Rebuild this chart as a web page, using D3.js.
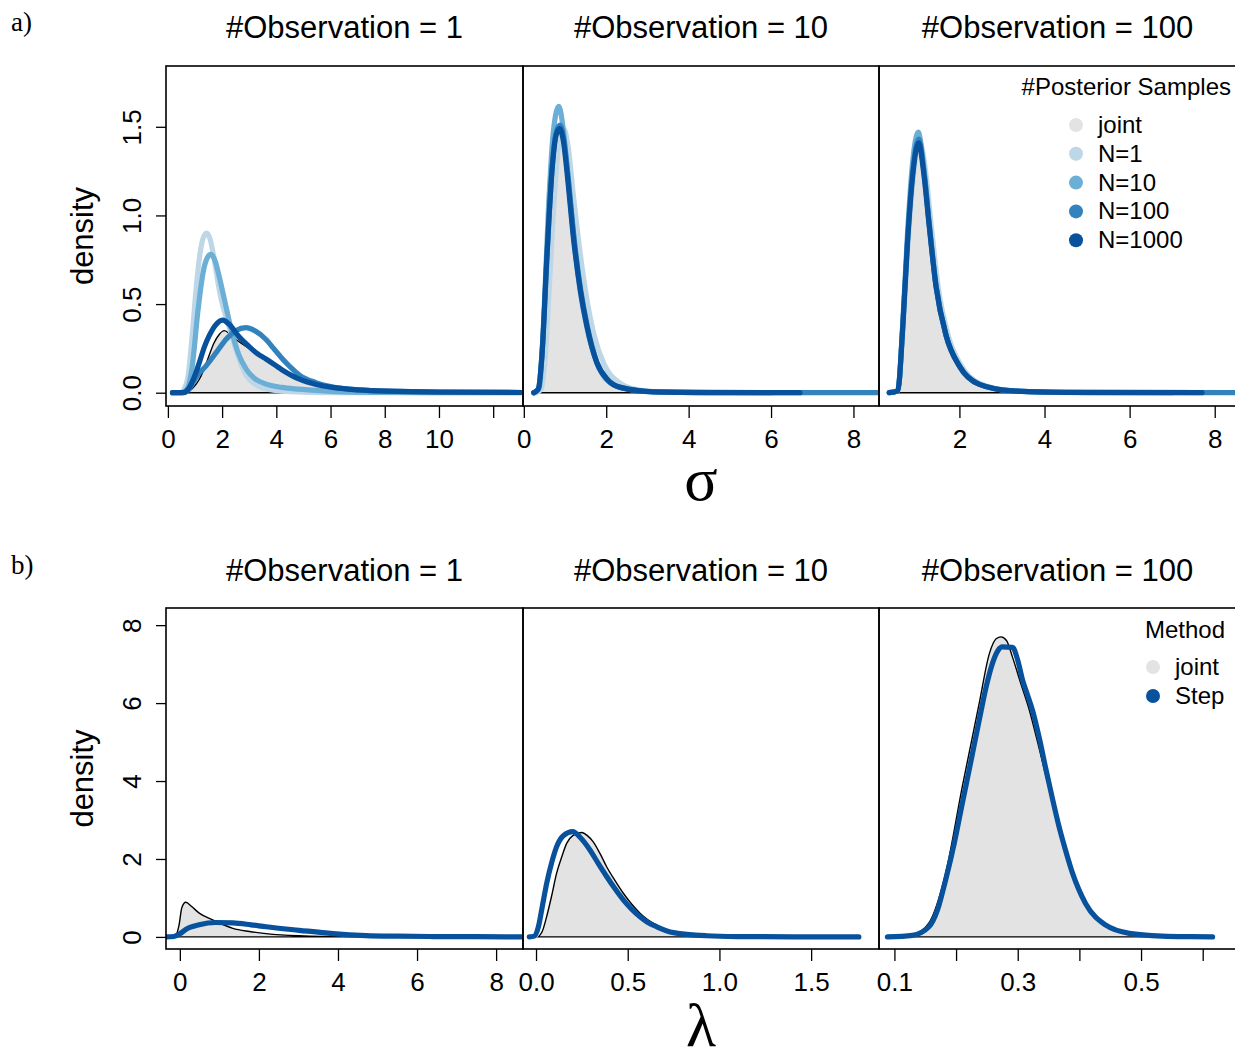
<!DOCTYPE html>
<html>
<head>
<meta charset="utf-8">
<script src="https://cdn.jsdelivr.net/npm/d3@7"></script>
<style>
  body { margin: 0; background: #fff; }
  svg text { font-family: "Liberation Sans", Arial, sans-serif; fill: #000; }
  .serif { font-family: "Liberation Serif", "DejaVu Serif", serif; }
</style>
</head>
<body>
<svg id="chart"></svg>
<script>
// ---- labels / colours ----
const panelTitles = ["#Observation = 1", "#Observation = 10", "#Observation = 100"];
const sampleLabels = ["joint", "N=1", "N=10", "N=100", "N=1000"];
const sampleColors = ["#e3e3e3", "#bdd7e7", "#6baed6", "#3182bd", "#08519c"];
const methodLabels = ["joint", "Step"];
const methodColors = ["#e3e3e3", "#08519c"];

// ---- axes ----
const sigmaXDomains = [[-0.07, 13.1], [-0.02, 8.62], [0.11, 8.5]];
const sigmaXTicks = [[0, 2, 4, 6, 8, 10, 12], [0, 2, 4, 6, 8], [2, 4, 6, 8]];
const sigmaXTickLabels = [["0", "2", "4", "6", "8", "10", ""], ["0", "2", "4", "6", "8"], ["2", "4", "6", "8"]];
const sigmaYDomain = [-0.075, 1.843];
const sigmaYTicks = [0, 0.5, 1, 1.5];
const sigmaYTickLabels = ["0.0", "0.5", "1.0", "1.5"];

const lambdaXDomains = [[-0.35, 8.68], [-0.071, 1.87], [0.075, 0.654]];
const lambdaXTicks = [[0, 2, 4, 6, 8], [0, 0.5, 1, 1.5], [0.1, 0.2, 0.3, 0.4, 0.5, 0.6]];
const lambdaXTickLabels = [["0", "2", "4", "6", "8"], ["0.0", "0.5", "1.0", "1.5"], ["0.1", "", "0.3", "", "0.5", ""]];
const lambdaYDomain = [-0.31, 8.44];
const lambdaYTicks = [0, 2, 4, 6, 8];
const lambdaYTickLabels = ["0", "2", "4", "6", "8"];

// ---- density curves, sigma (x, density) ----
const sigma1Joint = [[0.6,0],[0.8,0.01],[1.0,0.04],[1.16,0.076],[1.35,0.14],[1.52,0.21],[1.7,0.28],[1.9,0.33],[2.08,0.35],[2.3,0.33],[2.6,0.29],[3.0,0.25],[3.6,0.19],[4.2,0.13],[4.85,0.08],[5.5,0.05],[6.0,0.035],[7,0.02],[8,0.012],[10,0.005],[12,0.002],[13.5,0.001]];
const sigma1N1 = [[0.17,0],[0.45,0],[0.6,0.02],[0.75,0.1],[0.9,0.33],[1.05,0.6],[1.2,0.8],[1.32,0.88],[1.43,0.9],[1.55,0.87],[1.7,0.76],[1.85,0.62],[1.96,0.53],[2.2,0.4],[2.4,0.3],[2.65,0.18],[2.9,0.095],[3.2,0.05],[3.5,0.025],[4.5,0.006],[6,0.001],[13.5,0]];
const sigma1N10 = [[0.17,0],[0.5,0],[0.7,0.02],[0.9,0.15],[1.1,0.45],[1.3,0.68],[1.45,0.76],[1.59,0.78],[1.75,0.74],[1.9,0.65],[2.05,0.55],[2.3,0.38],[2.6,0.22],[2.9,0.13],[3.2,0.08],[3.6,0.05],[4.2,0.03],[4.85,0.02],[6,0.008],[8,0.002],[13.5,0]];
const sigma1N100 = [[0.17,0],[0.55,0],[0.75,0.015],[0.9,0.05],[1.1,0.1],[1.4,0.15],[1.8,0.23],[2.14,0.3],[2.5,0.35],[2.88,0.367],[3.2,0.35],[3.62,0.3],[3.9,0.25],[4.23,0.19],[4.55,0.14],[4.85,0.1],[5.46,0.057],[6.0,0.035],[6.7,0.02],[7.5,0.012],[8.5,0.007],[10,0.003],[13.5,0.001]];
const sigma1N1000 = [[0.17,0],[0.55,0],[0.75,0.02],[0.95,0.08],[1.16,0.17],[1.35,0.26],[1.52,0.32],[1.75,0.38],[2.02,0.41],[2.3,0.38],[2.6,0.32],[3.0,0.26],[3.3,0.22],[3.62,0.19],[4.2,0.13],[4.85,0.076],[5.5,0.045],[6.07,0.03],[7,0.016],[8.5,0.008],[10,0.004],[13.5,0.001]];

const sigma2Joint = [[0.38,0],[0.46,0.05],[0.55,0.45],[0.65,1.0],[0.75,1.36],[0.85,1.47],[0.95,1.4],[1.05,1.2],[1.2,0.87],[1.37,0.58],[1.53,0.38],[1.77,0.18],[2.02,0.08],[2.4,0.03],[3.0,0.008],[4,0.002],[6,0]];
const sigma2N1 = [[0.3,0],[0.42,0.02],[0.52,0.2],[0.62,0.6],[0.74,1.1],[0.86,1.42],[0.97,1.49],[1.08,1.38],[1.2,1.12],[1.35,0.82],[1.5,0.57],[1.7,0.33],[1.95,0.16],[2.3,0.06],[2.8,0.015],[3.5,0.003],[6,0]];
const sigma2N10 = [[0.26,0],[0.38,0.03],[0.48,0.4],[0.6,1.05],[0.72,1.48],[0.85,1.615],[0.96,1.48],[1.07,1.22],[1.21,0.88],[1.37,0.57],[1.53,0.37],[1.77,0.17],[2.02,0.07],[2.4,0.025],[3.2,0.005],[6,0]];
const sigma2N100 = [[0.24,0],[0.35,0.02],[0.45,0.25],[0.57,0.8],[0.69,1.28],[0.8,1.48],[0.88,1.51],[0.97,1.43],[1.06,1.25],[1.22,0.87],[1.38,0.58],[1.54,0.375],[1.78,0.17],[2.03,0.075],[2.35,0.03],[3.2,0.005],[4.5,0.001],[8.8,0]];
const sigma2N1000 = [[0.24,0],[0.35,0.02],[0.44,0.21],[0.56,0.77],[0.68,1.24],[0.78,1.45],[0.87,1.49],[0.96,1.42],[1.05,1.24],[1.21,0.86],[1.37,0.58],[1.53,0.376],[1.77,0.17],[2.02,0.076],[2.34,0.03],[3.15,0.005],[4.5,0.001],[6.7,0]];

const sigma3Joint = [[0.55,0],[0.62,0.1],[0.7,0.48],[0.8,0.92],[0.92,1.26],[1.04,1.38],[1.16,1.22],[1.29,0.93],[1.45,0.6],[1.69,0.32],[2.0,0.15],[2.47,0.047],[3.25,0.01],[4.5,0.001],[6,0]];
const sigma3N1 = [[0.35,0],[0.55,0.01],[0.66,0.3],[0.78,0.8],[0.92,1.22],[1.06,1.42],[1.2,1.26],[1.33,0.96],[1.5,0.6],[1.74,0.32],[2.05,0.15],[2.5,0.05],[3.3,0.01],[5,0],[7,0]];
const sigma3N10 = [[0.35,0],[0.55,0.01],[0.67,0.4],[0.78,0.9],[0.9,1.3],[1.03,1.47],[1.16,1.28],[1.29,0.96],[1.45,0.61],[1.69,0.32],[2.0,0.15],[2.47,0.047],[3.25,0.01],[5,0],[7,0]];
const sigma3N100 = [[0.35,0],[0.55,0.01],[0.67,0.38],[0.78,0.86],[0.9,1.24],[1.04,1.43],[1.17,1.24],[1.29,0.95],[1.45,0.6],[1.69,0.32],[2.0,0.15],[2.47,0.047],[3.25,0.01],[4.5,0.002],[8.6,0]];
const sigma3N1000 = [[0.35,0],[0.55,0.01],[0.67,0.375],[0.78,0.845],[0.9,1.22],[1.04,1.41],[1.17,1.22],[1.29,0.94],[1.45,0.6],[1.69,0.32],[2.0,0.15],[2.47,0.047],[3.25,0.01],[4.5,0.002],[7.7,0]];

// ---- density curves, lambda ----
const lambda1Joint = [[-0.1,0],[-0.02,0.3],[0.05,0.75],[0.15,0.89],[0.3,0.78],[0.49,0.61],[0.83,0.44],[1.34,0.22],[1.76,0.14],[2.18,0.085],[3.0,0.03],[4.3,0.005],[6,0.001],[8,0]];
const lambda1Step = [[-0.35,0],[-0.15,0.01],[0.0,0.08],[0.15,0.19],[0.49,0.31],[0.9,0.37],[1.34,0.36],[1.8,0.31],[2.18,0.26],[3.02,0.17],[3.87,0.085],[4.71,0.035],[5.5,0.018],[6.4,0.01],[7.5,0.005],[9,0.002]];

const lambda2Joint = [[0.013,0],[0.035,0.15],[0.058,0.52],[0.085,1.05],[0.112,1.63],[0.14,2.05],[0.167,2.4],[0.2,2.6],[0.249,2.68],[0.28,2.6],[0.312,2.44],[0.35,2.13],[0.385,1.8],[0.43,1.45],[0.476,1.12],[0.52,0.85],[0.567,0.61],[0.61,0.44],[0.658,0.3],[0.75,0.13],[0.875,0.03],[1.0,0.008],[1.2,0]];
const lambda2Step = [[-0.037,0],[-0.01,0.02],[0.013,0.26],[0.035,0.8],[0.058,1.37],[0.085,1.9],[0.112,2.31],[0.15,2.6],[0.2,2.7],[0.245,2.53],[0.294,2.23],[0.34,1.88],[0.385,1.55],[0.43,1.24],[0.476,0.95],[0.52,0.72],[0.567,0.52],[0.61,0.37],[0.658,0.26],[0.75,0.11],[0.93,0.03],[1.1,0.01],[1.4,0.002],[1.76,0]];

const lambda3Joint = [[0.09,0],[0.13,0.06],[0.156,0.36],[0.183,1.63],[0.21,3.85],[0.2375,5.99],[0.254,7.27],[0.265,7.65],[0.273,7.7],[0.282,7.6],[0.2915,7.18],[0.305,6.5],[0.319,5.81],[0.333,4.95],[0.346,4.11],[0.36,3.25],[0.373,2.48],[0.387,1.8],[0.4,1.2],[0.427,0.5],[0.454,0.2],[0.497,0.05],[0.54,0.01],[0.6,0]];
const lambda3Step = [[0.0886,0],[0.129,0.04],[0.156,0.26],[0.17,0.7],[0.183,1.46],[0.197,2.4],[0.21,3.42],[0.224,4.5],[0.2375,5.56],[0.25,6.5],[0.259,7.02],[0.268,7.35],[0.275,7.44],[0.2915,7.43],[0.3,7.1],[0.308,6.58],[0.316,6.2],[0.324,5.81],[0.335,5.1],[0.346,4.28],[0.357,3.5],[0.367,2.83],[0.378,2.2],[0.389,1.63],[0.41,0.86],[0.443,0.3],[0.481,0.09],[0.535,0.02],[0.58,0.005],[0.616,0]];

// ---- layout ----
const width = 1235, height = 1051;
const colEdges = [[166, 523], [523, 879], [879, 1236]];

const svg = d3.select('#chart')
    .attr('width', width)
    .attr('height', height);

const rows = [
    {
        top: 66, bottom: 406, titleY: 38,
        xDomains: sigmaXDomains, xTicks: sigmaXTicks, xTickLabels: sigmaXTickLabels,
        yDomain: sigmaYDomain, yTicks: sigmaYTicks, yTickLabels: sigmaYTickLabels,
        joint: [sigma1Joint, sigma2Joint, sigma3Joint],
        lines: [
            [sigma1N1, sigma1N10, sigma1N100, sigma1N1000],
            [sigma2N1, sigma2N10, sigma2N100, sigma2N1000],
            [sigma3N1, sigma3N10, sigma3N100, sigma3N1000]
        ],
        lineColors: sampleColors.slice(1),
        axisSymbol: "σ", symbolY: 500, tag: "a)", tagY: 31
    },
    {
        top: 608, bottom: 949, titleY: 581,
        xDomains: lambdaXDomains, xTicks: lambdaXTicks, xTickLabels: lambdaXTickLabels,
        yDomain: lambdaYDomain, yTicks: lambdaYTicks, yTickLabels: lambdaYTickLabels,
        joint: [lambda1Joint, lambda2Joint, lambda3Joint],
        lines: [[lambda1Step], [lambda2Step], [lambda3Step]],
        lineColors: methodColors.slice(1),
        axisSymbol: "λ", symbolY: 1046, tag: "b)", tagY: 574
    }
];

rows.forEach((row, r) => {
    const yScale = d3.scaleLinear().domain(row.yDomain).range([row.bottom, row.top]);

    colEdges.forEach((edge, c) => {
        const xScale = d3.scaleLinear().domain(row.xDomains[c]).range(edge);
        const clipId = `clip-${r}-${c}`;

        svg.append('clipPath').attr('id', clipId)
            .append('rect')
            .attr('x', edge[0]).attr('y', row.top)
            .attr('width', edge[1] - edge[0]).attr('height', row.bottom - row.top);

        const g = svg.append('g').attr('clip-path', `url(#${clipId})`);

        // joint density: grey polygon with thin black outline (closed on baseline)
        const area = d3.area()
            .x(d => xScale(d[0]))
            .y0(yScale(0))
            .y1(d => yScale(d[1]))
            .curve(d3.curveMonotoneX);
        g.append('path')
            .datum(row.joint[c])
            .attr('d', d => area(d) + 'Z')
            .attr('fill', '#e3e3e3')
            .attr('stroke', '#000')
            .attr('stroke-width', 1.4);

        const line = d3.line()
            .x(d => xScale(d[0]))
            .y(d => yScale(d[1]))
            .curve(d3.curveMonotoneX);
        g.selectAll('path.dens')
            .data(row.lines[c])
            .join('path')
            .attr('class', 'dens')
            .attr('d', line)
            .attr('fill', 'none')
            .attr('stroke', (d, i) => row.lineColors[i])
            .attr('stroke-width', 5.2)
            .attr('stroke-linecap', 'round')
            .attr('stroke-linejoin', 'round');

        // panel box
        svg.append('rect')
            .attr('x', edge[0]).attr('y', row.top)
            .attr('width', edge[1] - edge[0]).attr('height', row.bottom - row.top)
            .attr('fill', 'none')
            .attr('stroke', '#000')
            .attr('stroke-width', 1.6);

        // x axis
        const labels = row.xTickLabels[c];
        const xAxis = d3.axisBottom(xScale)
            .tickValues(row.xTicks[c])
            .tickFormat((d, i) => labels[i])
            .tickSize(12)
            .tickSizeOuter(0)
            .tickPadding(12);
        const ax = svg.append('g')
            .attr('transform', `translate(0, ${row.bottom})`)
            .call(xAxis);
        ax.select('.domain').remove();
        ax.selectAll('line').attr('stroke', '#000').attr('stroke-width', 1.3);
        ax.selectAll('text')
            .attr('font-size', 26)
            .attr('font-family', '"Liberation Sans", Arial, sans-serif');

        // panel title
        svg.append('text')
            .attr('x', (edge[0] + edge[1]) / 2)
            .attr('y', row.titleY)
            .attr('text-anchor', 'middle')
            .attr('font-size', 31)
            .text(panelTitles[c]);
    });

    // y axis on the left panel only, labels rotated like base R
    const yAxis = d3.axisLeft(yScale)
        .tickValues(row.yTicks)
        .tickFormat((d, i) => row.yTickLabels[i])
        .tickSize(10)
        .tickSizeOuter(0);
    const ay = svg.append('g')
        .attr('transform', `translate(${colEdges[0][0]}, 0)`)
        .call(yAxis);
    ay.select('.domain').remove();
    ay.selectAll('line').attr('stroke', '#000').attr('stroke-width', 1.3);
    ay.selectAll('text')
        .attr('font-size', 26)
        .attr('font-family', '"Liberation Sans", Arial, sans-serif')
        .attr('transform', 'rotate(-90)')
        .attr('x', 0)
        .attr('y', -25)
        .attr('dy', 0)
        .attr('text-anchor', 'middle');

    svg.append('text')
        .attr('transform', `translate(93, ${(row.top + row.bottom) / 2}) rotate(-90)`)
        .attr('text-anchor', 'middle')
        .attr('font-size', 31)
        .text('density');

    svg.append('text')
        .attr('class', 'serif')
        .attr('x', 701)
        .attr('y', row.symbolY)
        .attr('text-anchor', 'middle')
        .attr('font-size', 62)
        .text(row.axisSymbol);

    svg.append('text')
        .attr('class', 'serif')
        .attr('x', 11)
        .attr('y', row.tagY)
        .attr('font-size', 27)
        .text(row.tag);
});

// ---- legends ----
function drawLegend(title, titleX, titleY, labels, colors, dotX, firstY, step) {
    svg.append('text')
        .attr('x', titleX).attr('y', titleY)
        .attr('text-anchor', 'end')
        .attr('font-size', 24)
        .text(title);
    const items = svg.append('g').selectAll('g')
        .data(labels)
        .join('g')
        .attr('transform', (d, i) => `translate(${dotX}, ${firstY + i * step})`);
    items.append('circle')
        .attr('r', 7)
        .attr('fill', (d, i) => colors[i]);
    items.append('text')
        .attr('x', 22)
        .attr('y', 8)
        .attr('font-size', 24)
        .text(d => d);
}

drawLegend("#Posterior Samples", 1231, 95, sampleLabels, sampleColors, 1076, 125, 28.8);
drawLegend("Method", 1225, 638, methodLabels, methodColors, 1153, 667, 29);
</script>
</body>
</html>
